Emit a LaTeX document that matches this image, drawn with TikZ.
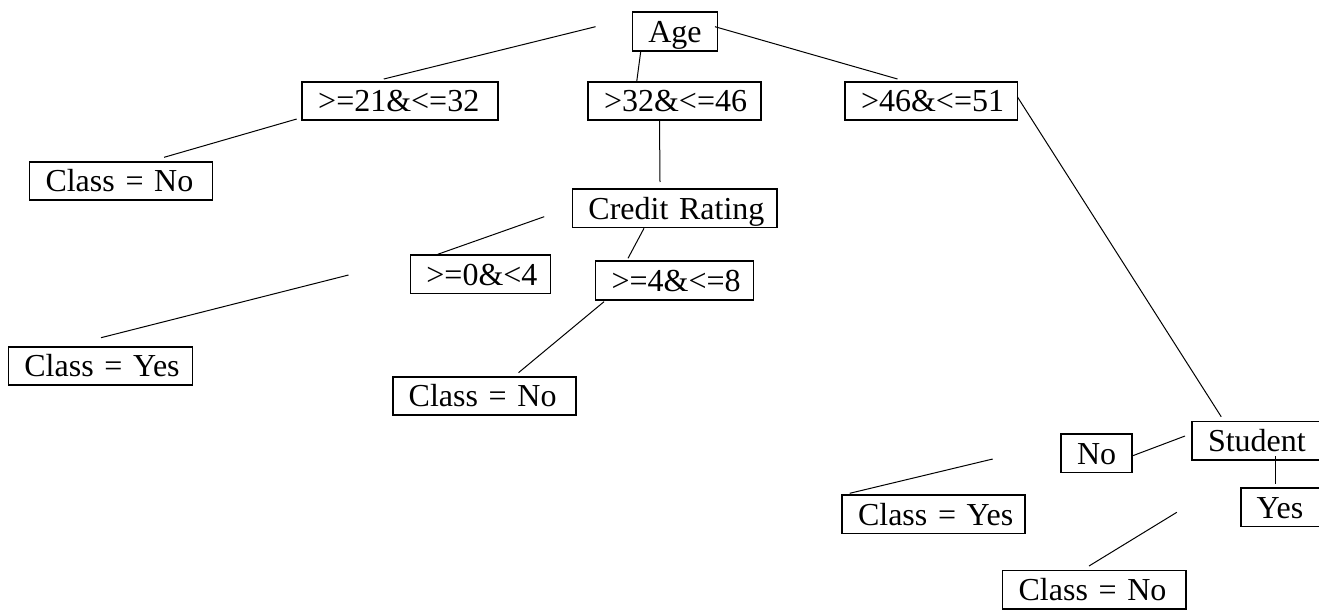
\documentclass[tikz,border=0pt]{standalone}
\usepackage{fontspec}
\setmainfont{Liberation Serif}
% keep each label on a single line inside its box
\newcommand{\lbl}[1]{\mbox{#1}}
\begin{document}
\begin{tikzpicture}[x=1pt,y=-1pt,
  box/.style={draw, line width=1.6pt, anchor=north west, align=left,
    inner xsep=16pt, inner ysep=0pt, outer sep=0pt,
    minimum height=38.5pt, text height=22pt, text depth=0pt,
    font=\fontsize{32}{36}\selectfont},
  link/.style={line width=1pt}]
\clip (0,0) rectangle (1319,610);
\fill[white] (0,0) rectangle (1319,610);

% tree nodes
\node[box, text width=53pt]    (age)     at (632.3,12.3)  {\lbl{Age}};
\node[box, text width=163.7pt] (r21)     at (302.2,81.7)  {\lbl{>=21\&<=32}};
\node[box, text width=140.9pt] (r32)     at (588,81.7)    {\lbl{>32\&<=46}};
\node[box, text width=140.3pt] (r46)     at (845,81.7)    {\lbl{>46\&<=51}};
\node[box, text width=151pt]   (clsnoA)  at (29.5,161.7)  {\lbl{Class = No}};
\node[box, text width=172.5pt] (credit)  at (572.4,189)   {\lbl{Credit Rating}};
\node[box, text width=108.1pt] (r0)      at (410.4,255)   {\lbl{>=0\&<4}};
\node[box, text width=125.7pt] (r4)      at (595.6,261.2) {\lbl{>=4\&<=8}};
\node[box, text width=151.9pt] (clsyesA) at (8.4,346.7)   {\lbl{Class = Yes}};
\node[box, text width=151.1pt] (clsnoB)  at (392.7,376.7) {\lbl{Class = No}};
\node[box, text width=101pt]   (student) at (1192,421.5)  {\lbl{Student}};
\node[box, text width=39pt]    (no)      at (1061,433.8)  {\lbl{No}};
\node[box, text width=52.3pt]  (yes)     at (1240.7,488)  {\lbl{Yes}};
\node[box, text width=151.2pt] (clsyesB) at (842,495)     {\lbl{Class = Yes}};
\node[box, text width=151.2pt] (clsnoC)  at (1002.6,570.5){\lbl{Class = No}};

% free ends of the connecting strokes
\coordinate (a1) at (595.5,26.7);   \coordinate (a2) at (383.8,79);
\coordinate (b1) at (640.7,51.7);   \coordinate (b2) at (636.7,81.7);
\coordinate (c1) at (715,26.7);     \coordinate (c2) at (897.5,79);
\coordinate (d1) at (296.7,119);    \coordinate (d2) at (164.1,157.3);
\coordinate (e1) at (659.5,120);    \coordinate (e2) at (660,182);
\coordinate (f1) at (544.2,216.7);  \coordinate (f2) at (437.7,254.3);
\coordinate (g1) at (644,228.3);    \coordinate (g2) at (628,258.3);
\coordinate (h1) at (348.5,275);    \coordinate (h2) at (101,337.7);
\coordinate (i1) at (604,301.7);    \coordinate (i2) at (518.5,372.7);
\coordinate (j1) at (1017.3,96.7);  \coordinate (j2) at (1221.2,416.7);
\coordinate (k1) at (1132,456);     \coordinate (k2) at (1185,436);
\coordinate (l1) at (1275.8,456);   \coordinate (l2) at (1275.8,484.3);
\coordinate (m1) at (992.7,459);    \coordinate (m2) at (849.7,493.3);
\coordinate (n1) at (1176.8,512.3); \coordinate (n2) at (1089,566);

\draw[link] (a1) -- (a2);
\draw[link] (b1) -- (b2);
\draw[link] (c1) -- (c2);
\draw[link] (d1) -- (d2);
\draw[link] (e1) -- (e2);
\draw[link] (f1) -- (f2);
\draw[link] (g1) -- (g2);
\draw[link] (h1) -- (h2);
\draw[link] (i1) -- (i2);
\draw[link] (j1) -- (j2);
\draw[link] (k1) -- (k2);
\draw[link] (l1) -- (l2);
\draw[link] (m1) -- (m2);
\draw[link] (n1) -- (n2);
\end{tikzpicture}
\end{document}
